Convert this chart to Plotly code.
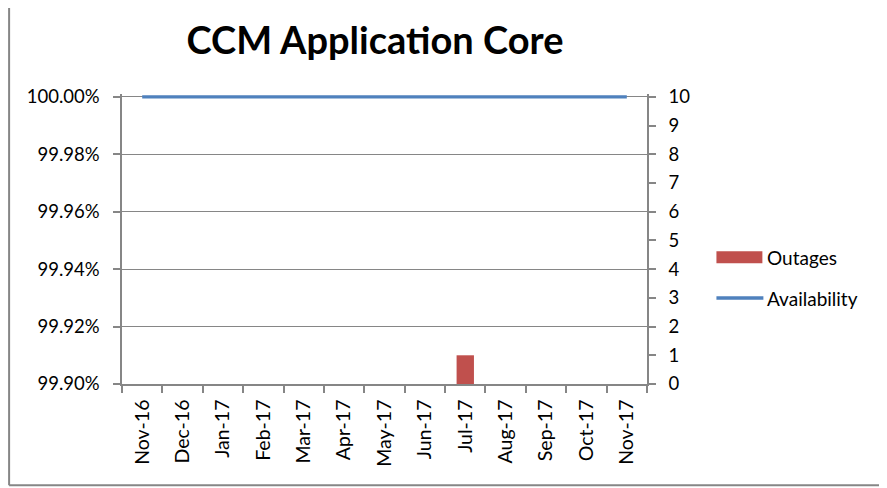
import plotly.graph_objects as go

months = ["Nov-16", "Dec-16", "Jan-17", "Feb-17", "Mar-17", "Apr-17", "May-17",
          "Jun-17", "Jul-17", "Aug-17", "Sep-17", "Oct-17", "Nov-17"]
outages = [0, 0, 0, 0, 0, 0, 0, 0, 1, 0, 0, 0, 0]
availability = [1.0] * 13
legend_names = ["Outages", "Availability"]
title_text = "CCM Application Core"

OFF = 8                                 # browser body margin
W, H = 887 - OFF, 488 - OFF
# screen coordinates of plot area
SL, SR, SB, STOP = 122, 647.5, 384, 96.5
PX_PER = (SB - STOP) / 0.001
EXTRA = 0.00001                         # headroom so the 100% line is not clipped
ST = STOP - EXTRA * PX_PER

L, R, B, T = SL - OFF, SR - OFF, SB - OFF, ST - OFF

FONT = "Lato"
GRAY = "#868686"


def px_x(sx):
    return (sx - SL) / (SR - SL)


def px_y(sy):
    return (SB - sy) / (SB - ST)


fig = go.Figure()
fig.add_trace(go.Bar(x=months, y=outages, name=legend_names[0], yaxis="y2",
                     marker=dict(color="#C0504D", line=dict(width=0)), width=0.43,
                     showlegend=False))
fig.add_trace(go.Scatter(x=months, y=availability, name=legend_names[1], mode="lines",
                         line=dict(color="#4F81BD", width=3.2), showlegend=False))

ax_common = dict(showline=True, linecolor=GRAY, linewidth=1.5, ticks="outside", ticklen=7,
                 tickcolor=GRAY, tickwidth=1.5, zeroline=False, automargin=False)

fig.update_layout(
    width=W, height=H,
    margin=dict(l=L, r=W - R, t=T, b=H - B, pad=0, autoexpand=False),
    paper_bgcolor="white", plot_bgcolor="white",
    font=dict(family=FONT, size=18, color="black"),
    title=dict(text="<b>" + title_text + "</b>", x=(375 - OFF) / W, xanchor="center",
               y=1 - (41 - OFF) / H, yanchor="middle",
               font=dict(family=FONT, size=38, color="black")),
    showlegend=False,
    xaxis=dict(type="category", tickangle=-90, tickson="boundaries", showgrid=False,
               range=[-0.5, 12.5], ticklabelstandoff=6,
               tickfont=dict(family=FONT, size=19.5, color="black"), **ax_common),
    yaxis=dict(range=[0.999, 1.0 + EXTRA], tickvals=[0.999, 0.9992, 0.9994, 0.9996, 0.9998, 1.0],
               tickformat=".2%", showgrid=True, gridcolor=GRAY, gridwidth=1,
               ticklabelstandoff=10, tickfont=dict(family=FONT, size=18.5, color="black"),
               **ax_common),
    yaxis2=dict(range=[0, 10 * (0.001 + EXTRA) / 0.001], tickvals=list(range(11)),
                overlaying="y", side="right", showgrid=False, ticklabelstandoff=9,
                tickfont=dict(family=FONT, size=18.5, color="black"), **ax_common),
    shapes=[
        # chart-area border
        dict(type="line", xref="paper", yref="paper", x0=px_x(9), x1=px_x(900),
             y0=px_y(485.5), y1=px_y(485.5), line=dict(color=GRAY, width=2)),
        dict(type="line", xref="paper", yref="paper", x0=px_x(9), x1=px_x(9),
             y0=px_y(485.5), y1=px_y(-5), line=dict(color=GRAY, width=2)),
        # legend keys
        dict(type="rect", xref="paper", yref="paper", x0=px_x(717), x1=px_x(763),
             y0=px_y(263), y1=px_y(251), fillcolor="#C0504D", line=dict(width=0)),
        dict(type="line", xref="paper", yref="paper", x0=px_x(717), x1=px_x(764),
             y0=px_y(298), y1=px_y(298), line=dict(color="#4F81BD", width=3.5)),
    ],
    annotations=[
        dict(text=legend_names[0], xref="paper", yref="paper", x=px_x(766), y=px_y(257),
             xanchor="left", yanchor="middle", showarrow=False,
             font=dict(family=FONT, size=19, color="black")),
        dict(text=legend_names[1], xref="paper", yref="paper", x=px_x(766), y=px_y(298),
             xanchor="left", yanchor="middle", showarrow=False,
             font=dict(family=FONT, size=19, color="black")),
    ],
)

fig.write_html("out.html")
